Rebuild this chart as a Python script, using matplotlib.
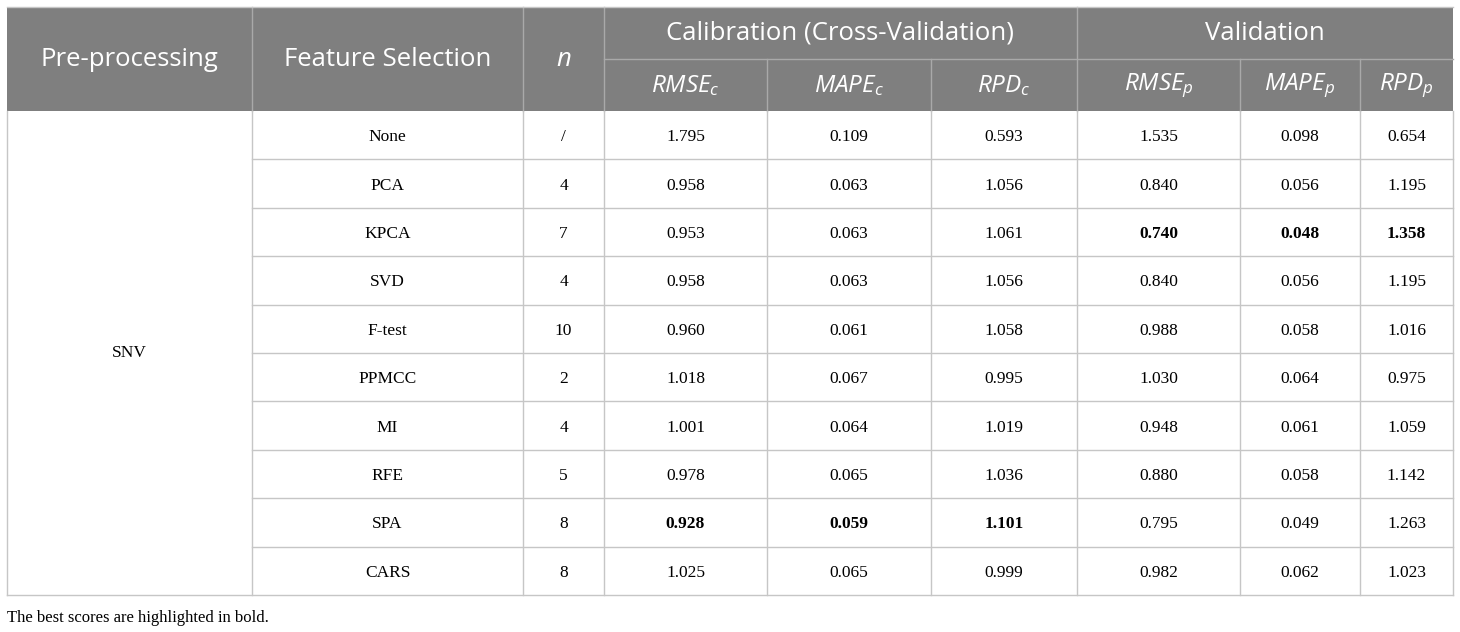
import matplotlib
matplotlib.use("Agg")
import matplotlib.pyplot as plt
from matplotlib.patches import Rectangle

# Table data
methods = ['None', 'PCA', 'KPCA', 'SVD', 'F-test', 'PPMCC', 'MI', 'RFE', 'SPA', 'CARS']
n_feat = ['/', '4', '7', '4', '10', '2', '4', '5', '8', '8']
rmse_c = ['1.795', '0.958', '0.953', '0.958', '0.960', '1.018', '1.001', '0.978', '0.928', '1.025']
mape_c = ['0.109', '0.063', '0.063', '0.063', '0.061', '0.067', '0.064', '0.065', '0.059', '0.065']
rpd_c = ['0.593', '1.056', '1.061', '1.056', '1.058', '0.995', '1.019', '1.036', '1.101', '0.999']
rmse_p = ['1.535', '0.840', '0.740', '0.840', '0.988', '1.030', '0.948', '0.880', '0.795', '0.982']
mape_p = ['0.098', '0.056', '0.048', '0.056', '0.058', '0.064', '0.061', '0.058', '0.049', '0.062']
rpd_p = ['0.654', '1.195', '1.358', '1.195', '1.016', '0.975', '1.059', '1.142', '1.263', '1.023']
# best scores (row index per column)
bold_cells = {3: 8, 4: 8, 5: 8, 6: 2, 7: 2, 8: 2}
preproc = 'SNV'
sub_headers = [r'$\mathit{RMSE}_{\mathit{c}}$', r'$\mathit{MAPE}_{\mathit{c}}$', r'$\mathit{RPD}_{\mathit{c}}$',
               r'$\mathit{RMSE}_{\mathit{p}}$', r'$\mathit{MAPE}_{\mathit{p}}$', r'$\mathit{RPD}_{\mathit{p}}$']
footnote = 'The best scores are highlighted in bold.'

plt.rcParams['mathtext.fontset'] = 'custom'
plt.rcParams['mathtext.it'] = 'Open Sans:italic'
plt.rcParams['mathtext.rm'] = 'Open Sans'

# layout (pixels)
col_x = [7, 252, 523, 604, 767, 931, 1077, 1240, 1360, 1453]
top, mid, head_bot, bottom = 7, 59, 111, 595
row_h = (bottom - head_bot) / len(methods)

head_col = '#7f7f7f'
head_line = '#a9a9a9'
grid_col = '#c6c6c6'
sans = 'Open Sans'
serif = 'Liberation Serif'

fig = plt.figure(figsize=(14.6, 6.32), dpi=100)
ax = fig.add_axes([0, 0, 1, 1])
ax.set_xlim(0, 1460)
ax.set_ylim(632, 0)
ax.axis('off')

# header background
ax.add_patch(Rectangle((col_x[0], top), col_x[-1] - col_x[0], head_bot - top,
                       facecolor=head_col, edgecolor='none'))
# header lines
for x in col_x[1:4]:
    ax.plot([x, x], [top, head_bot], color=head_line, lw=1)
ax.plot([col_x[6], col_x[6]], [top, head_bot], color=head_line, lw=1)
for x in [col_x[4], col_x[5], col_x[7], col_x[8]]:
    ax.plot([x, x], [mid, head_bot], color=head_line, lw=1)
ax.plot([col_x[3], col_x[-1]], [mid, mid], color=head_line, lw=1)

hs = 18.5
ax.text((col_x[0] + col_x[1]) / 2, (top + head_bot) / 2, 'Pre-processing', color='white',
        fontsize=hs, family=sans, ha='center', va='center')
ax.text((col_x[1] + col_x[2]) / 2, (top + head_bot) / 2, 'Feature Selection', color='white',
        fontsize=hs, family=sans, ha='center', va='center')
ax.text((col_x[2] + col_x[3]) / 2, (top + head_bot) / 2, 'n', color='white',
        fontsize=hs, family=sans, style='italic', ha='center', va='center')
ax.text((col_x[3] + col_x[6]) / 2, (top + mid) / 2, 'Calibration (Cross-Validation)', color='white',
        fontsize=hs, family=sans, ha='center', va='center')
ax.text((col_x[6] + col_x[9]) / 2, (top + mid) / 2, 'Validation', color='white',
        fontsize=hs, family=sans, ha='center', va='center')
for i, lab in enumerate(sub_headers):
    ax.text((col_x[3 + i] + col_x[4 + i]) / 2, (mid + head_bot) / 2 + 1, lab, color='white',
            fontsize=17.5, ha='center', va='center')

# body grid
for x in col_x:
    ax.plot([x, x], [head_bot, bottom], color=grid_col, lw=1)
for i in range(1, len(methods)):
    y = head_bot + i * row_h
    ax.plot([col_x[1], col_x[-1]], [y, y], color=grid_col, lw=1)
ax.plot([col_x[0], col_x[-1]], [bottom, bottom], color=grid_col, lw=1)
ax.plot([col_x[0], col_x[-1]], [top, top], color=grid_col, lw=1)

# body text
ds = 12.5
ax.text((col_x[0] + col_x[1]) / 2, (head_bot + bottom) / 2, preproc, fontsize=ds,
        family=serif, ha='center', va='center')
columns = [methods, n_feat, rmse_c, mape_c, rpd_c, rmse_p, mape_p, rpd_p]
for c, vals in enumerate(columns):
    cx = (col_x[c + 1] + col_x[c + 2]) / 2
    for r, v in enumerate(vals):
        cy = head_bot + (r + 0.5) * row_h + 2
        weight = 'bold' if bold_cells.get(c + 1) == r else 'normal'
        ax.text(cx, cy, v, fontsize=ds, family=serif, weight=weight, ha='center', va='center')

ax.text(col_x[0], 618, footnote, fontsize=12, family=serif, ha='left', va='center')

fig.savefig('out.png', dpi=100)
